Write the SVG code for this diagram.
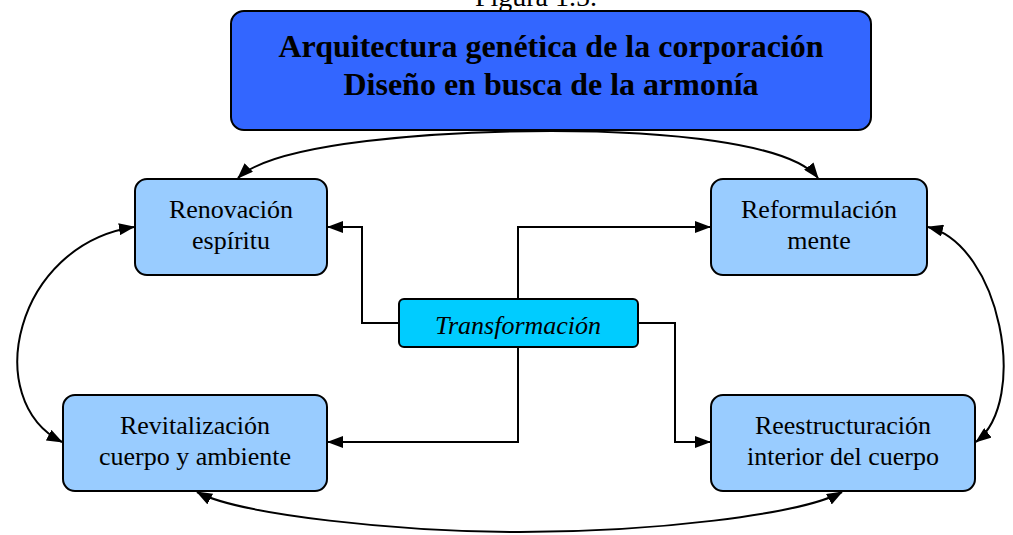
<svg xmlns="http://www.w3.org/2000/svg" width="1013" height="535" viewBox="0 0 1013 535">
<defs>
<marker id="arr" viewBox="0 0 16 12" refX="15" refY="6" markerWidth="16" markerHeight="12" markerUnits="userSpaceOnUse" orient="auto-start-reverse">
<path d="M0,0 L16,6 L0,12 Z" fill="#000"/>
</marker>
<style>
.n{fill:#99CCFF;stroke:#000;stroke-width:2}
.t{font-family:"Liberation Serif","Times New Roman",serif;font-size:26px;fill:#000;text-anchor:middle}
.c{fill:none;stroke:#000;stroke-width:2}
</style>
</defs>
<rect width="1013" height="535" fill="#fff"/>
<text x="536" y="6" class="t" style="font-size:28px">Figura 1.5.</text>
<g id="connectors">
<path class="c" d="M238,178 C275,142 440,131 551,131 C660,131 790,142 818,178" marker-start="url(#arr)" marker-end="url(#arr)"/>
<path class="c" d="M399,323 H362 V227 H328" marker-end="url(#arr)"/>
<path class="c" d="M518,299 V227 H710" marker-end="url(#arr)"/>
<path class="c" d="M518,347 V442 H328" marker-end="url(#arr)"/>
<path class="c" d="M638,323 H675 V442 H710" marker-end="url(#arr)"/>
<path class="c" d="M134,227 C15,245 -20,400 62,442" marker-start="url(#arr)" marker-end="url(#arr)"/>
<path class="c" d="M928,227 C1000,245 1030,400 976,442" marker-start="url(#arr)" marker-end="url(#arr)"/>
<path class="c" d="M197,492 C240,515 400,532 520,532 C650,532 800,515 842,492" marker-start="url(#arr)" marker-end="url(#arr)"/>
</g>
<g id="top">
<rect x="231" y="11" width="640" height="119" rx="13" fill="#3366FF" stroke="#000" stroke-width="2"/>
<text x="551" y="57" class="t" style="font-size:32px;font-weight:bold">Arquitectura genética de la corporación</text>
<text x="551" y="95" class="t" style="font-size:32px;font-weight:bold">Diseño en busca de la armonía</text>
</g>
<g id="renovacion">
<rect class="n" x="135" y="179" width="192" height="96" rx="12"/>
<text x="231" y="218" class="t">Renovación</text>
<text x="231" y="249" class="t">espíritu</text>
</g>
<g id="reformulacion">
<rect class="n" x="711" y="179" width="216" height="96" rx="12"/>
<text x="819" y="218" class="t">Reformulación</text>
<text x="819" y="249" class="t">mente</text>
</g>
<g id="transformacion">
<rect x="399" y="299" width="239" height="48" rx="5" fill="#00CCFF" stroke="#000" stroke-width="2"/>
<text x="518" y="334" class="t" style="font-style:italic">Transformación</text>
</g>
<g id="revitalizacion">
<rect class="n" x="63" y="395" width="264" height="96" rx="12"/>
<text x="195" y="434" class="t">Revitalización</text>
<text x="195" y="465" class="t">cuerpo y ambiente</text>
</g>
<g id="reestructuracion">
<rect class="n" x="711" y="395" width="264" height="96" rx="12"/>
<text x="843" y="434" class="t">Reestructuración</text>
<text x="843" y="465" class="t">interior del cuerpo</text>
</g>
</svg>
